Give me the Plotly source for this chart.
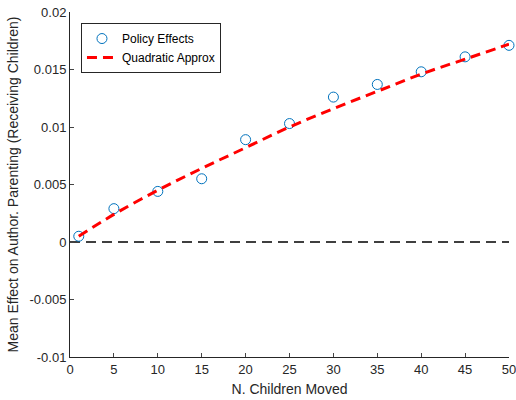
import plotly.graph_objects as go

n_moved = [1, 5, 10, 15, 20, 25, 30, 35, 40, 45, 50]
policy_effects = [0.0005, 0.0029, 0.0044, 0.0055, 0.0089, 0.0103, 0.0126, 0.0137, 0.0148, 0.0161, 0.0171]
quad_approx = [0.0005, 0.0024, 0.0045, 0.0064, 0.0082, 0.0100, 0.0116, 0.0131, 0.0146, 0.0159, 0.0172]
zero_x = [0, 50]
zero_y = [0, 0]
x_ticks = [0, 5, 10, 15, 20, 25, 30, 35, 40, 45, 50]
y_ticks = [-0.01, -0.005, 0, 0.005, 0.01, 0.015, 0.02]
y_tick_labels = ["-0.01", "-0.005", "0", "0.005", "0.01", "0.015", "0.02"]

FONT = "Liberation Sans, Arial, sans-serif"
fig = go.Figure()
fig.add_trace(go.Scatter(x=zero_x, y=zero_y, mode="lines",
                         line=dict(color="black", width=1.3, dash="10px,6px"),
                         showlegend=False, hoverinfo="skip", cliponaxis=False))
fig.add_trace(go.Scatter(x=n_moved, y=policy_effects, mode="markers", name="Policy Effects",
                         cliponaxis=False,
                         marker=dict(symbol="circle-open", size=10, color="#0072BD",
                                     line=dict(width=1, color="#0072BD"))))
fig.add_trace(go.Scatter(x=n_moved, y=quad_approx, mode="lines", name="Quadratic Approx",
                         cliponaxis=False,
                         line=dict(color="#FF0000", width=3, dash="10px,6px", shape="spline")))

fig.update_layout(
    width=516, height=400,
    margin=dict(l=70, r=7, t=12, b=43),
    paper_bgcolor="white", plot_bgcolor="white",
    font=dict(family=FONT, size=13, color="#262626"),
    showlegend=True,
    legend=dict(x=0.025, y=0.968, xanchor="left", yanchor="top",
                bordercolor="#262626", borderwidth=1, bgcolor="white",
                font=dict(family=FONT, size=12, color="black"),
                tracegroupgap=0, itemwidth=30),
    xaxis=dict(range=[0, 50], tickvals=x_ticks, ticks="inside", ticklen=4, automargin=False,
               ticklabeloverflow="allow",
               showline=True, linecolor="#262626", linewidth=1, showgrid=False, zeroline=False,
               title=dict(text="N. Children Moved", font=dict(size=14), standoff=8),
               mirror=False),
    yaxis=dict(range=[-0.01, 0.02], tickvals=y_ticks, ticktext=y_tick_labels, ticks="inside", ticklen=4,
               automargin=False, ticklabeloverflow="allow",
               showline=True, linecolor="#262626", linewidth=1, showgrid=False, zeroline=False,
               title=dict(text="Mean Effect on Author. Parenting (Receiving Children)", font=dict(size=14), standoff=7),
               mirror=False),
)
fig.write_html("out.html", config={"displayModeBar": False},
               post_script="document.body.style.margin='0';document.body.style.padding='0';")
